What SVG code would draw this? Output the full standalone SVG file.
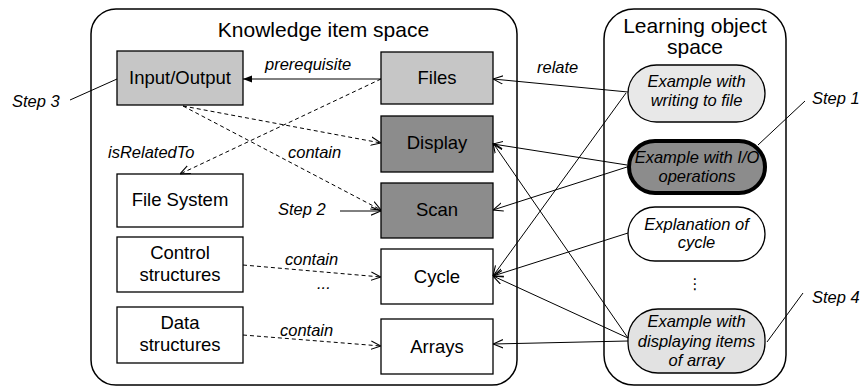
<svg xmlns="http://www.w3.org/2000/svg" width="862" height="387" viewBox="0 0 862 387">
<defs>
<marker id="open" viewBox="0 0 10 10" refX="10" refY="5" markerWidth="10" markerHeight="10" markerUnits="userSpaceOnUse" orient="auto">
<path d="M0,0.8 L10,5 L0,9.2" fill="none" stroke="#000" stroke-width="1.1"/>
</marker>
<marker id="filled" viewBox="0 0 10 10" refX="10" refY="5" markerWidth="9" markerHeight="9" markerUnits="userSpaceOnUse" orient="auto">
<path d="M0,1 L10,5 L0,9 Z" fill="#000"/>
</marker>
</defs>
<style>
text{font-family:"Liberation Sans",Arial,sans-serif;fill:#000}
.title{font-size:21px;text-anchor:middle}
.box{font-size:18.5px;text-anchor:middle}
.lab{font-size:16.5px;font-style:italic}
.obj{font-size:16.5px;font-style:italic;text-anchor:middle}
.cont{fill:#fff;stroke:#000;stroke-width:1.5}
.node{stroke:#000;stroke-width:1.3}
.lt{fill:#c6c6c6}
.dk{fill:#8c8c8c}
.wh{fill:#fff}
.ln{fill:none;stroke:#000;stroke-width:1}
.dash{stroke-dasharray:4,3}
</style>

<g id="knowledge-space">
<rect class="cont" x="91" y="9" width="426" height="376" rx="25"/>
<text class="title" x="323.5" y="37">Knowledge item space</text>
</g>
<g id="learning-space">
<rect class="cont" x="604" y="9" width="182" height="376" rx="30"/>
<text class="title" x="695" y="33">Learning object</text>
<text class="title" x="695" y="54">space</text>
</g>

<g id="input-output"><rect class="node lt" x="117" y="51" width="126" height="54"/><text class="box" x="180" y="84">Input/Output</text></g>
<g id="files"><rect class="node lt" x="381" y="52" width="112" height="52"/><text class="box" x="437" y="84">Files</text></g>
<g id="display"><rect class="node dk" x="381" y="116" width="112" height="56"/><text class="box" x="437" y="149">Display</text></g>
<g id="scan"><rect class="node dk" x="381" y="183" width="112" height="55"/><text class="box" x="437" y="216">Scan</text></g>
<g id="cycle"><rect class="node wh" x="381" y="249" width="112" height="55"/><text class="box" x="437" y="283">Cycle</text></g>
<g id="arrays"><rect class="node wh" x="381" y="319" width="112" height="55"/><text class="box" x="437" y="353">Arrays</text></g>
<g id="file-system"><rect class="node wh" x="117" y="174" width="126" height="53"/><text class="box" x="180" y="206">File System</text></g>
<g id="control-structures"><rect class="node wh" x="117" y="237" width="126" height="55"/><text class="box" x="180" y="259">Control</text><text class="box" x="180" y="281">structures</text></g>
<g id="data-structures"><rect class="node wh" x="117" y="307" width="126" height="56"/><text class="box" x="180" y="329">Data</text><text class="box" x="180" y="351">structures</text></g>

<g id="lo-writing"><rect class="node" fill="#e8e8e8" x="628" y="65" width="137" height="57" rx="28.5"/><text class="obj" x="696.5" y="87">Example with</text><text class="obj" x="696.5" y="106">writing to file</text></g>
<g id="lo-io"><rect fill="#8c8c8c" stroke="#000" stroke-width="4" x="629" y="141" width="136" height="52" rx="26"/><text class="obj" x="697" y="163">Example with I/O</text><text class="obj" x="697" y="182">operations</text></g>
<g id="lo-cycle"><rect class="node wh" x="628" y="207" width="137" height="54" rx="27"/><text class="obj" x="696.5" y="230">Explanation of</text><text class="obj" x="696.5" y="248">cycle</text></g>
<g id="lo-more"><text x="695" y="289" style="font-family:'DejaVu Sans',sans-serif;font-size:15px;text-anchor:middle">⋮</text></g>
<g id="lo-array"><rect class="node" fill="#e2e2e2" x="628" y="309" width="137" height="64" rx="30"/><text class="obj" x="696.5" y="327">Example with</text><text class="obj" x="696.5" y="347">displaying items</text><text class="obj" x="696.5" y="366">of array</text></g>

<g id="connectors">
<line class="ln" x1="381" y1="79" x2="243" y2="79" marker-end="url(#filled)"/>
<line class="ln dash" x1="381" y1="79" x2="180" y2="174" marker-end="url(#open)"/>
<line class="ln dash" x1="183" y1="106" x2="381" y2="143" marker-end="url(#open)"/>
<line class="ln dash" x1="183" y1="106" x2="381" y2="210" marker-end="url(#open)"/>
<line class="ln dash" x1="243" y1="265" x2="381" y2="277" marker-end="url(#open)"/>
<line class="ln dash" x1="243" y1="335" x2="381" y2="346" marker-end="url(#open)"/>
<line class="ln" x1="340" y1="211" x2="381" y2="211" marker-end="url(#open)"/>
<line class="ln" x1="628" y1="92" x2="493" y2="79" marker-end="url(#open)"/>
<line class="ln" x1="626" y1="93" x2="493" y2="276" marker-end="url(#open)"/>
<line class="ln" x1="627" y1="165" x2="493" y2="144" marker-end="url(#open)"/>
<line class="ln" x1="627" y1="167" x2="493" y2="210" marker-end="url(#open)"/>
<line class="ln" x1="628" y1="233" x2="493" y2="276" marker-end="url(#open)"/>
<line class="ln" x1="628" y1="338" x2="493" y2="143" marker-end="url(#open)"/>
<line class="ln" x1="628" y1="338" x2="493" y2="276" marker-end="url(#open)"/>
<line class="ln" x1="628" y1="341" x2="493" y2="344" marker-end="url(#open)"/>
<line class="ln" x1="117" y1="79" x2="70" y2="100"/>
<line class="ln" x1="758" y1="145" x2="805" y2="101"/>
<line class="ln" x1="767" y1="342" x2="803" y2="293"/>
</g>

<g id="labels">
<text class="lab" x="265" y="70">prerequisite</text>
<text class="lab" x="108" y="158">isRelatedTo</text>
<text class="lab" x="288" y="158">contain</text>
<text class="lab" x="285" y="265">contain</text>
<text class="lab" x="317" y="289">...</text>
<text class="lab" x="280" y="336">contain</text>
<text class="lab" x="537" y="73">relate</text>
<text class="lab" x="12" y="107">Step 3</text>
<text class="lab" x="278" y="215">Step 2</text>
<text class="lab" x="812" y="104">Step 1</text>
<text class="lab" x="812" y="303">Step 4</text>
</g>
</svg>
